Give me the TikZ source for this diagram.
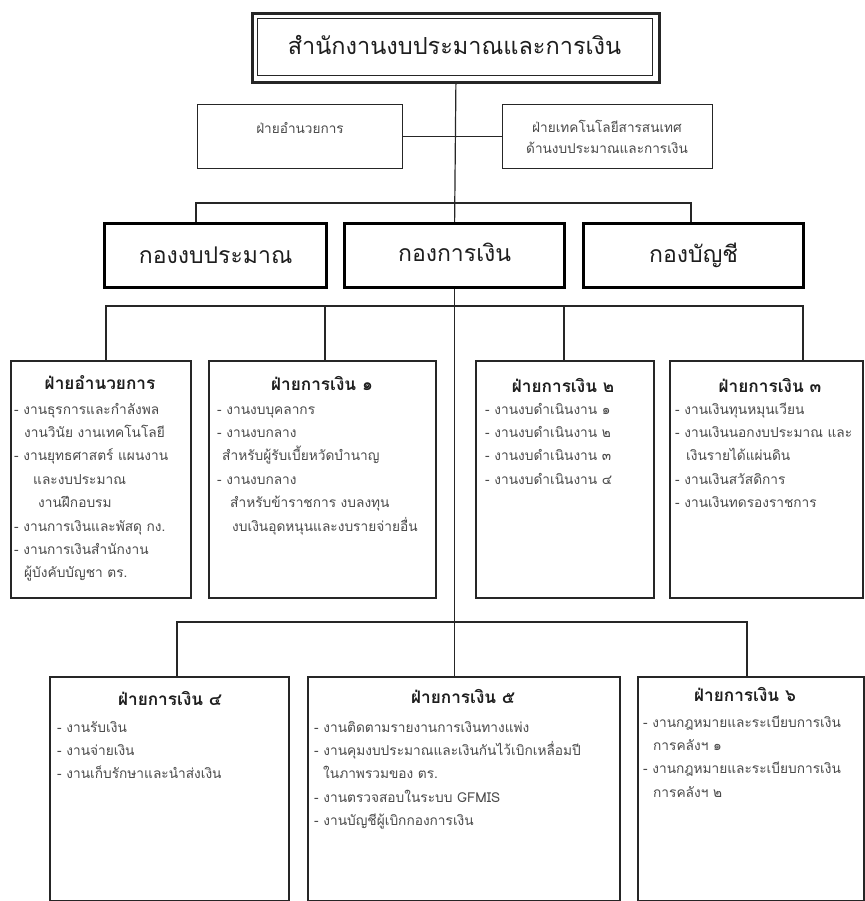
\documentclass[tikz,border=0pt]{standalone}
\usepackage{fontspec}
\setmainfont[Script=Thai]{Loma}
\usetikzlibrary{calc}
\definecolor{ink}{HTML}{1E1E1E}
\definecolor{itemgray}{HTML}{4A4A4A}
\definecolor{rule}{HTML}{262626}

% one line of a list, placed on its baseline
\newcommand\listlines[4]{%
  \foreach [count=\k] \ind/\txt in {#4} {
    \node[itemtxt] (#1-\k) at (#2+\ind, #3+23.4*\k-23.4) {\txt};
  }%
}

\begin{document}
\begin{tikzpicture}[x=1pt,y=-1pt,
  conn/.style={draw=rule, line width=1.2pt},
  box/.style={draw=rule, fill=white, anchor=north west, inner sep=0pt, line width=1.5pt},
  divbox/.style={box, draw=black, line width=3.2pt},
  headtxt/.style={text=ink, inner sep=0pt, font=\fontsize{23.5}{28}\selectfont},
  divtxt/.style={text=ink, inner sep=0pt, font=\fontsize{23}{27}\selectfont},
  sectxt/.style={text=ink, inner sep=0pt, font=\fontsize{17.2}{20}\selectfont\bfseries},
  stafftxt/.style={text=itemgray, inner sep=0pt, align=center, font=\fontsize{13.6}{20.5}\selectfont},
  itemtxt/.style={text=itemgray, inner sep=0pt, anchor=base west, font=\fontsize{13.7}{16}\selectfont},
]
\useasboundingbox (0,0) rectangle (864,901);

% ---------- bus points ----------
\coordinate (b1a) at (196,203);
\coordinate (b1b) at (691,203);
\coordinate (b2a) at (106,306);
\coordinate (b2b) at (325,306);
\coordinate (b2d) at (564,306);
\coordinate (b2e) at (803,306);
\coordinate (b3a) at (177,622);
\coordinate (b3c) at (747,622);

% ---------- office ----------
\node[box, line width=2.8pt, minimum width=407, minimum height=69] (top) at (251,12) {};
\node[box, line width=1.1pt, minimum width=395, minimum height=57] (topin) at (257,18) {};
\node[headtxt] (toptxt) at (454.5,45) {สำนักงานงบประมาณและการเงิน};

% ---------- staff units ----------
\node[box, line width=1.2pt, minimum width=205, minimum height=64] (staffL) at (197,104) {};
\node[box, line width=1.2pt, minimum width=210, minimum height=64] (staffR) at (502,104) {};
\node[stafftxt] (staffLt) at (300,128) {ฝ่ายอำนวยการ};
\node[stafftxt] (staffRt) at (607,137) {ฝ่ายเทคโนโลยีสารสนเทศ\\ด้านงบประมาณและการเงิน};

% ---------- divisions ----------
\node[divbox, minimum width=222, minimum height=64] (d1) at (103,222) {};
\node[divbox, minimum width=220, minimum height=64] (d2) at (343,222) {};
\node[divbox, minimum width=220, minimum height=64] (d3) at (582,222) {};
\node[divtxt] (d1t) at (d1.center) {กองงบประมาณ};
\node[divtxt] (d2t) at ($(d2.center)+(0,-3)$) {กองการเงิน};
\node[divtxt] (d3t) at (d3.center) {กองบัญชี};

% ---------- sections, first row ----------
\node[box, minimum width=180, minimum height=237] (s1) at (10,360) {};
\node[box, minimum width=227, minimum height=237] (s2) at (208,360) {};
\node[box, minimum width=178, minimum height=237] (s3) at (475,360) {};
\node[box, minimum width=193, minimum height=237] (s4) at (669,360) {};
\node[sectxt] (s1t) at (100,383) {ฝ่ายอำนวยการ};
\node[sectxt] (s2t) at (322,383) {ฝ่ายการเงิน ๑};
\node[sectxt] (s3t) at (563,385) {ฝ่ายการเงิน ๒};
\node[sectxt] (s4t) at (770,385) {ฝ่ายการเงิน ๓};

\listlines{s1l}{14}{414}{0/- งานธุรการและกำลังพล, 10/งานวินัย งานเทคโนโลยี, 0/- งานยุทธศาสตร์ แผนงาน, 19/และงบประมาณ, 24/งานฝึกอบรม, 0/- งานการเงินและพัสดุ กง., 0/- งานการเงินสำนักงาน, 10/ผู้บังคับบัญชา ตร.}
\listlines{s2l}{217}{414}{0/- งานงบบุคลากร, 0/- งานงบกลาง, 5/สำหรับผู้รับเบี้ยหวัดบำนาญ, 0/- งานงบกลาง, 13/สำหรับข้าราชการ งบลงทุน, 15/งบเงินอุดหนุนและงบรายจ่ายอื่น}
\listlines{s3l}{485}{414}{0/- งานงบดำเนินงาน ๑, 0/- งานงบดำเนินงาน ๒, 0/- งานงบดำเนินงาน ๓, 0/- งานงบดำเนินงาน ๔}
\listlines{s4l}{675}{414}{0/- งานเงินทุนหมุนเวียน, 0/- งานเงินนอกงบประมาณ และ, 11/เงินรายได้แผ่นดิน, 0/- งานเงินสวัสดิการ, 0/- งานเงินทดรองราชการ}

% ---------- sections, second row ----------
\node[box, minimum width=239, minimum height=224] (f4) at (49,676) {};
\node[box, minimum width=312, minimum height=224] (f5) at (307,676) {};
\node[box, minimum width=226, minimum height=224] (f6) at (637,676) {};
\node[sectxt] (f4t) at (170,698) {ฝ่ายการเงิน ๔};
\node[sectxt] (f5t) at (463,696) {ฝ่ายการเงิน ๕};
\node[sectxt] (f6t) at (745,695) {ฝ่ายการเงิน ๖};

\listlines{f4l}{57}{732}{0/- งานรับเงิน, 0/- งานจ่ายเงิน, 0/- งานเก็บรักษาและนำส่งเงิน}
\listlines{f5l}{314}{732}{0/- งานติดตามรายงานการเงินทางแพ่ง, 0/- งานคุมงบประมาณและเงินกันไว้เบิกเหลื่อมปี, 9/ในภาพรวมของ ตร., 0/- งานตรวจสอบในระบบ GFMIS, 0/- งานบัญชีผู้เบิกกองการเงิน}
\listlines{f6l}{643}{727}{0/- งานกฎหมายและระเบียบการเงิน, 10/การคลังฯ ๑, 0/- งานกฎหมายและระเบียบการเงิน, 10/การคลังฯ ๒}

% ---------- connector lines ----------
\draw[conn] (staffL.east) -- (staffR.west);
\draw[conn] (top.south) -- (d2.north);
\draw[conn] (b1a |- d1.north) -- (b1a) -- (b1b) -- (b1b |- d3.north);
\draw[conn] (d2.south) -- (d2.south |- f5.north);
\draw[conn] (b2a |- s1.north) -- (b2a) -- (b2e) -- (b2e |- s4.north);
\draw[conn] (b2b) -- (b2b |- s2.north);
\draw[conn] (b2d) -- (b2d |- s3.north);
\draw[conn] (b3a |- f4.north) -- (b3a) -- (b3c) -- (b3c |- f6.north);
\end{tikzpicture}
\end{document}
